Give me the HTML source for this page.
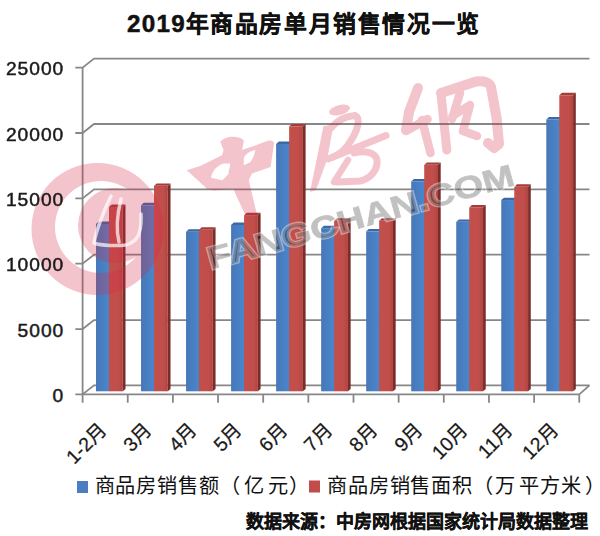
<!DOCTYPE html>
<html lang="zh-CN"><head><meta charset="utf-8">
<style>
html,body{margin:0;padding:0;background:#fff;}
body{width:600px;height:536px;overflow:hidden;position:relative;font-family:"Liberation Sans",sans-serif;}
svg{position:absolute;left:0;top:0;}
</style></head><body>
<svg width="600" height="536" viewBox="0 0 600 536">
<defs><linearGradient id="gb" x1="0" x2="1" y1="0" y2="0"><stop offset="0" stop-color="#4777B8"/><stop offset="1" stop-color="#4A86CC"/></linearGradient><linearGradient id="gr" x1="0" x2="1" y1="0" y2="0"><stop offset="0" stop-color="#C44F4B"/><stop offset="0.7" stop-color="#C04E4A"/><stop offset="1" stop-color="#B04440"/></linearGradient></defs>
<rect width="600" height="536" fill="#fff"/>
<text x="127" y="32.3" font-size="24.2" font-weight="bold" fill="#111" stroke="#111" stroke-width="0.5" letter-spacing="1.3">2019</text>
<text x="185.5" y="32" font-size="22.8" font-weight="bold" fill="#111" stroke="#111" stroke-width="0.4" letter-spacing="1.62">年商品房单月销售情况一览</text>
<g stroke="#878787" stroke-width="1.8" fill="none">
<polyline points="75.3,394.4 579.25,394.4" />
<polyline points="82.6,394.4 94.0,385.4 589.5,385.4" />
<polyline points="579.25,394.4 589.5,385.4" />
<polyline points="75.3,329.05 82.6,329.05 94.0,320.05 589.5,320.05" />
<polyline points="75.3,263.70 82.6,263.70 94.0,254.70 589.5,254.70" />
<polyline points="75.3,198.35 82.6,198.35 94.0,189.35 589.5,189.35" />
<polyline points="75.3,133.00 82.6,133.00 94.0,124.00 589.5,124.00" />
<polyline points="75.3,67.65 82.6,67.65 94.0,58.65 589.5,58.65" />
<line x1="82.6" y1="67.65" x2="82.6" y2="402.7" />
<line x1="127.75" y1="394.4" x2="127.75" y2="402.7" />
<line x1="172.90" y1="394.4" x2="172.90" y2="402.7" />
<line x1="218.05" y1="394.4" x2="218.05" y2="402.7" />
<line x1="263.20" y1="394.4" x2="263.20" y2="402.7" />
<line x1="308.35" y1="394.4" x2="308.35" y2="402.7" />
<line x1="353.50" y1="394.4" x2="353.50" y2="402.7" />
<line x1="398.65" y1="394.4" x2="398.65" y2="402.7" />
<line x1="443.80" y1="394.4" x2="443.80" y2="402.7" />
<line x1="488.95" y1="394.4" x2="488.95" y2="402.7" />
<line x1="534.10" y1="394.4" x2="534.10" y2="402.7" />
<line x1="579.25" y1="394.4" x2="579.25" y2="402.7" />
</g>
<polygon fill="#3C68A6" points="96.00,223.99 98.70,221.59 111.70,221.59 109.00,223.99"/><polygon fill="#2F5585" points="109.00,223.99 111.70,221.59 111.70,388.90 109.00,391.30"/><rect fill="url(#gb)" x="96.00" y="223.99" width="13.00" height="167.31"/>
<polygon fill="#A63C3A" points="109.00,207.02 111.70,204.62 125.50,204.62 122.80,207.02"/><polygon fill="#7A2C2A" points="122.80,207.02 125.50,204.62 125.50,388.90 122.80,391.30"/><rect fill="url(#gr)" x="109.00" y="207.02" width="13.80" height="184.28"/>
<polygon fill="#3C68A6" points="141.03,205.26 143.73,202.86 156.73,202.86 154.03,205.26"/><polygon fill="#2F5585" points="154.03,205.26 156.73,202.86 156.73,388.90 154.03,391.30"/><rect fill="url(#gb)" x="141.03" y="205.26" width="13.00" height="186.04"/>
<polygon fill="#A63C3A" points="154.03,185.78 156.73,183.38 170.53,183.38 167.83,185.78"/><polygon fill="#7A2C2A" points="167.83,185.78 170.53,183.38 170.53,388.90 167.83,391.30"/><rect fill="url(#gr)" x="154.03" y="185.78" width="13.80" height="205.52"/>
<polygon fill="#3C68A6" points="186.06,231.74 188.76,229.34 201.76,229.34 199.06,231.74"/><polygon fill="#2F5585" points="199.06,231.74 201.76,229.34 201.76,388.90 199.06,391.30"/><rect fill="url(#gb)" x="186.06" y="231.74" width="13.00" height="159.56"/>
<polygon fill="#A63C3A" points="199.06,229.65 201.76,227.25 215.56,227.25 212.86,229.65"/><polygon fill="#7A2C2A" points="212.86,229.65 215.56,227.25 215.56,388.90 212.86,391.30"/><rect fill="url(#gr)" x="199.06" y="229.65" width="13.80" height="161.65"/>
<polygon fill="#3C68A6" points="231.09,224.91 233.79,222.51 246.79,222.51 244.09,224.91"/><polygon fill="#2F5585" points="244.09,224.91 246.79,222.51 246.79,388.90 244.09,391.30"/><rect fill="url(#gb)" x="231.09" y="224.91" width="13.00" height="166.39"/>
<polygon fill="#A63C3A" points="244.09,215.16 246.79,212.76 260.59,212.76 257.89,215.16"/><polygon fill="#7A2C2A" points="257.89,215.16 260.59,212.76 260.59,388.90 257.89,391.30"/><rect fill="url(#gr)" x="244.09" y="215.16" width="13.80" height="176.14"/>
<polygon fill="#3C68A6" points="276.12,143.99 278.82,141.59 291.82,141.59 289.12,143.99"/><polygon fill="#2F5585" points="289.12,143.99 291.82,141.59 291.82,388.90 289.12,391.30"/><rect fill="url(#gb)" x="276.12" y="143.99" width="13.00" height="247.31"/>
<polygon fill="#A63C3A" points="289.12,126.44 291.82,124.04 305.62,124.04 302.92,126.44"/><polygon fill="#7A2C2A" points="302.92,126.44 305.62,124.04 305.62,388.90 302.92,391.30"/><rect fill="url(#gr)" x="289.12" y="126.44" width="13.80" height="264.86"/>
<polygon fill="#3C68A6" points="321.15,228.21 323.85,225.81 336.85,225.81 334.15,228.21"/><polygon fill="#2F5585" points="334.15,228.21 336.85,225.81 336.85,388.90 334.15,391.30"/><rect fill="url(#gb)" x="321.15" y="228.21" width="13.00" height="163.09"/>
<polygon fill="#A63C3A" points="334.15,220.76 336.85,218.36 350.65,218.36 347.95,220.76"/><polygon fill="#7A2C2A" points="347.95,220.76 350.65,218.36 350.65,388.90 347.95,391.30"/><rect fill="url(#gr)" x="334.15" y="220.76" width="13.80" height="170.54"/>
<polygon fill="#3C68A6" points="366.18,231.32 368.88,228.92 381.88,228.92 379.18,231.32"/><polygon fill="#2F5585" points="379.18,231.32 381.88,228.92 381.88,388.90 379.18,391.30"/><rect fill="url(#gb)" x="366.18" y="231.32" width="13.00" height="159.98"/>
<polygon fill="#A63C3A" points="379.18,220.76 381.88,218.36 395.68,218.36 392.98,220.76"/><polygon fill="#7A2C2A" points="392.98,220.76 395.68,218.36 395.68,388.90 392.98,391.30"/><rect fill="url(#gr)" x="379.18" y="220.76" width="13.80" height="170.54"/>
<polygon fill="#3C68A6" points="411.21,181.45 413.91,179.05 426.91,179.05 424.21,181.45"/><polygon fill="#2F5585" points="424.21,181.45 426.91,179.05 426.91,388.90 424.21,391.30"/><rect fill="url(#gb)" x="411.21" y="181.45" width="13.00" height="209.85"/>
<polygon fill="#A63C3A" points="424.21,164.83 426.91,162.43 440.71,162.43 438.01,164.83"/><polygon fill="#7A2C2A" points="438.01,164.83 440.71,162.43 440.71,388.90 438.01,391.30"/><rect fill="url(#gr)" x="424.21" y="164.83" width="13.80" height="226.47"/>
<polygon fill="#3C68A6" points="456.24,221.78 458.94,219.38 471.94,219.38 469.24,221.78"/><polygon fill="#2F5585" points="469.24,221.78 471.94,219.38 471.94,388.90 469.24,391.30"/><rect fill="url(#gb)" x="456.24" y="221.78" width="13.00" height="169.52"/>
<polygon fill="#A63C3A" points="469.24,207.41 471.94,205.01 485.74,205.01 483.04,207.41"/><polygon fill="#7A2C2A" points="483.04,207.41 485.74,205.01 485.74,388.90 483.04,391.30"/><rect fill="url(#gr)" x="469.24" y="207.41" width="13.80" height="183.89"/>
<polygon fill="#3C68A6" points="501.27,200.04 503.97,197.64 516.97,197.64 514.27,200.04"/><polygon fill="#2F5585" points="514.27,200.04 516.97,197.64 516.97,388.90 514.27,391.30"/><rect fill="url(#gb)" x="501.27" y="200.04" width="13.00" height="191.26"/>
<polygon fill="#A63C3A" points="514.27,186.73 516.97,184.33 530.77,184.33 528.07,186.73"/><polygon fill="#7A2C2A" points="528.07,186.73 530.77,184.33 530.77,388.90 528.07,391.30"/><rect fill="url(#gr)" x="514.27" y="186.73" width="13.80" height="204.57"/>
<polygon fill="#3C68A6" points="546.30,119.49 549.00,117.09 562.00,117.09 559.30,119.49"/><polygon fill="#2F5585" points="559.30,119.49 562.00,117.09 562.00,388.90 559.30,391.30"/><rect fill="url(#gb)" x="546.30" y="119.49" width="13.00" height="271.81"/>
<polygon fill="#A63C3A" points="559.30,95.27 562.00,92.87 575.80,92.87 573.10,95.27"/><polygon fill="#7A2C2A" points="573.10,95.27 575.80,92.87 575.80,388.90 573.10,391.30"/><rect fill="url(#gr)" x="559.30" y="95.27" width="13.80" height="296.03"/>

<g opacity="0.275" fill="#D82848" stroke="#D82848" stroke-linecap="round" stroke-linejoin="round">
  <path stroke="none" fill-rule="evenodd" d="M31.5,229 A66,66 0 1 0 163.5,229 A66,66 0 1 0 31.5,229 Z M55,227 A46,46 0 1 0 147,227 A46,46 0 1 0 55,227 Z"/>
  <circle cx="115.5" cy="225.5" r="37.5" stroke="none"/>
  <path stroke="none" fill-rule="evenodd" d="M220.3,141.7 C224,137 233,135.5 238.7,137.5 C242,138.5 244,140 243.8,141.7 L242,150 L253.8,146 L267.2,140.9 C271,140 274,141 274,143.4 L270.6,166.9 L252,173.6 L248.8,180.3 L257.2,215.6 L245.4,215.6 L235.4,193.8 L233.7,188.7 L213.6,190.4 C208,190 205,188 205.2,187 L186.7,170.3 L200.1,166 L222,155.2 L223.6,150.1 Z M211,177.8 C212,172 216,166 223.6,163.6 L230.3,163.6 C230,168 228,172 228.7,173.6 C226,177 223,180 222,180.3 Z M243.8,158.5 C245,155 248,152 255.5,150.1 C255,152 254,155 253.8,156 L250.5,161.9 L243.8,165.2 Z"/>
  <ellipse cx="339.6" cy="110" rx="10.7" ry="5" transform="rotate(-15 339.6 110)" stroke="none"/>
  <path stroke="none" d="M323.5,126 L333.5,125 L327,160 L316,190 L310,192 L316.5,160 Z"/>
  <path fill="none" stroke-width="7" d="M331,128 C337,121 346,116 355,115.5 C361,118 358,130 350,142 C345,150 338,155 333,157"/>
  <path fill="none" stroke-width="7" d="M328,159 L386,135.5"/>
  <path fill="none" stroke-width="7" d="M354,153 C364,150 375,152 377,160 C378,170 370,179 360,181 L338,182"/>
  <path fill="none" stroke-width="6.5" d="M348,160 L334,182"/>
  <path fill="none" stroke-width="10" d="M418,88 L409,112 L406,130"/>
  <path fill="none" stroke-width="8.5" d="M406,131 L427.6,119"/>
  <path fill="none" stroke-width="8.5" d="M422,120 L430.5,153"/>
  <path fill="none" stroke-width="9" d="M441,94 L446.8,150"/>
  <path fill="none" stroke-width="10" d="M441,93 L476,81.5 C485,80.5 490,83 491,87 L496.6,118 L499,144 L494,148 L488,143"/>
  <path fill="none" stroke-width="8.5" d="M460,93 L452,119 M452.5,116 L470,105 L463,131 L477,136"/>
</g>
<g opacity="0.7" fill="none" stroke="#fff" stroke-width="3.5" stroke-linecap="round" stroke-linejoin="round">
  <path d="M111,196 C103,212 96,232 94,243 C102,246 118,246 126,245 C136,242 142,236 141,214"/>
  <path d="M121,199 C117,215 116,230 119,242"/>
</g>
<g font-size="31" font-weight="bold">
<text transform="translate(211,269.5) rotate(-15.5) scale(1.235,1)" fill="none" stroke="#fff" stroke-opacity="0.4" stroke-width="3.2">FANGCHAN.COM</text>
<text transform="translate(211,269.5) rotate(-15.5) scale(1.235,1)" fill="#000" stroke="#000" stroke-width="0.7" opacity="0.24">FANGCHAN.COM</text>
</g>

<g font-size="17.8" fill="#1a1a1a" stroke="#1a1a1a" stroke-width="0.45">
<text transform="translate(64.2,402.0) scale(1.08,1)" text-anchor="end" letter-spacing="0.9">0</text>
<text transform="translate(64.2,336.6) scale(1.08,1)" text-anchor="end" letter-spacing="0.9">5000</text>
<text transform="translate(64.2,271.3) scale(1.08,1)" text-anchor="end" letter-spacing="0.9">10000</text>
<text transform="translate(64.2,205.9) scale(1.08,1)" text-anchor="end" letter-spacing="0.9">15000</text>
<text transform="translate(64.2,140.6) scale(1.08,1)" text-anchor="end" letter-spacing="0.9">20000</text>
<text transform="translate(64.2,75.2) scale(1.08,1)" text-anchor="end" letter-spacing="0.9">25000</text>
</g>
<g font-size="19.5" fill="#1a1a1a" stroke="#1a1a1a" stroke-width="0.25">
<text transform="translate(108.2,431) rotate(-45)" text-anchor="end">1-2月</text>
<text transform="translate(153.3,431) rotate(-45)" text-anchor="end">3月</text>
<text transform="translate(198.5,431) rotate(-45)" text-anchor="end">4月</text>
<text transform="translate(243.6,431) rotate(-45)" text-anchor="end">5月</text>
<text transform="translate(288.8,431) rotate(-45)" text-anchor="end">6月</text>
<text transform="translate(333.9,431) rotate(-45)" text-anchor="end">7月</text>
<text transform="translate(379.1,431) rotate(-45)" text-anchor="end">8月</text>
<text transform="translate(424.2,431) rotate(-45)" text-anchor="end">9月</text>
<text transform="translate(469.4,431) rotate(-45)" text-anchor="end">10月</text>
<text transform="translate(514.5,431) rotate(-45)" text-anchor="end">11月</text>
<text transform="translate(559.7,431) rotate(-45)" text-anchor="end">12月</text>
</g>
<rect x="77" y="481" width="11" height="12" fill="#4A7EC0"/>
<text y="493.2" font-size="20.2" letter-spacing="0.85" fill="#111"><tspan x="94.5">商品房销售额（</tspan><tspan x="243.5">亿</tspan><tspan x="267.5">元</tspan><tspan x="289">）</tspan></text>
<rect x="309" y="480.5" width="11" height="12" fill="#C24C49"/>
<text y="493.2" font-size="20.2" letter-spacing="0.85" fill="#111"><tspan x="327">商品房销售面积（</tspan><tspan x="494.5">万</tspan><tspan x="518.5">平</tspan><tspan x="539.5">方</tspan><tspan x="561">米</tspan><tspan x="585">）</tspan></text>
<text x="245.5" y="528" font-size="18" font-weight="bold" fill="#111" stroke="#111" stroke-width="0.3">数据来源：中房网根据国家统计局数据整理</text>
</svg>
</body></html>
